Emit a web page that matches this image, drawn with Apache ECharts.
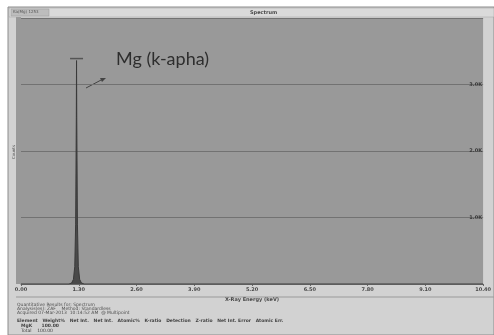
<!DOCTYPE html>
<html>
<head>
<meta charset="utf-8">
<script src="https://cdn.jsdelivr.net/npm/echarts@6/dist/echarts.min.js"></script>
<style>
  html, body { margin: 0; padding: 0; background: #ffffff; }
  #chart { width: 494px; height: 335px; }
</style>
</head>
<body>
<div id="chart"></div>
<script>
// energy ticks in keV (EDAX style spacing)
const tickLabels = ['0.00', '1.30', '2.60', '3.90', '5.20', '6.50', '7.80', '9.10', '10.40'];
const countTicks = ['0', '1.0K', '2.0K', '3.0K', '4.0K'];

// spectrum: a single narrow Mg K-alpha peak
const energy = [0, 1.08, 1.14, 1.18, 1.21, 1.23, 1.245, 1.25, 1.255, 1.27, 1.29, 1.32, 1.36, 1.42, 10.4];
const counts = [0, 0, 15, 70, 260, 900, 2500, 3360, 2500, 900, 260, 70, 15, 0, 0];

const peakLabel = 'MgK';
const annotation = 'Mg (k-apha)';

const chart = echarts.init(document.getElementById('chart'));

const option = {
  backgroundColor: '#ffffff',
  animation: false,
  grid: {
    left: 21,
    right: 4,
    top: 18,
    bottom: 51,
    show: true,
    backgroundColor: '#999999',
    borderWidth: 0
  },
  xAxis: {
    type: 'value',
    min: 0,
    max: 10.4,
    interval: 1.3,
    name: 'X-Ray Energy (keV)',
    nameLocation: 'middle',
    nameGap: 11,
    nameTextStyle: { fontSize: 5, color: '#4a4a4a', fontWeight: 'bold', fontFamily: 'DejaVu Sans' },
    axisLine: { show: true, lineStyle: { color: '#6a6a6a', width: 1 } },
    axisTick: { show: true, length: 2, lineStyle: { color: '#666' } },
    axisLabel: {
      fontSize: 5,
      color: '#4a4a4a',
      fontWeight: 'bold',
      margin: 3,
      fontFamily: 'DejaVu Sans',
      formatter: (v) => tickLabels[Math.round(v / 1.3)] || ''
    },
    splitLine: { show: false }
  },
  yAxis: {
    type: 'value',
    min: 0,
    max: 4000,
    interval: 1000,
    position: 'right',
    axisLine: { show: false },
    axisTick: { show: false },
    axisLabel: {
      inside: true,
      margin: 1,
      fontSize: 5,
      color: '#3a3a3a',
      fontWeight: 'bold',
      fontFamily: 'DejaVu Sans',
      verticalAlign: 'middle',
      formatter: (v) => v === 0 || v === 4000 ? '' : countTicks[v / 1000]
    },
    splitLine: { show: true, lineStyle: { color: '#727272', width: 1 } }
  },
  series: [
    {
      type: 'line',
      data: energy.map((e, i) => [e, counts[i]]),
      symbol: 'none',
      lineStyle: { color: '#3a3a3a', width: 1 },
      areaStyle: { color: '#4a4a4a', opacity: 1 },
      markPoint: {
        symbol: 'rect',
        symbolSize: [13, 1.5],
        symbolOffset: [0, -2],
        itemStyle: { color: '#555555' },
        label: { show: false },
        data: [{ name: peakLabel, coord: [1.25, 3360] }]
      }
    }
  ],
  graphic: [
    // window frame
    { type: 'rect', shape: { x: 8, y: 7, width: 486, height: 328 }, style: { fill: '#d2d2d2', stroke: '#8c8c8c', lineWidth: 1 }, z: -10 },
    { type: 'rect', shape: { x: 16, y: 17, width: 5, height: 267 }, style: { fill: '#999999' }, z: -5 },
    // title bar
    { type: 'rect', shape: { x: 9, y: 8, width: 485, height: 9 }, style: { fill: '#dadada', stroke: '#a0a0a0', lineWidth: 0.5 }, z: -4 },
    { type: 'rect', shape: { x: 11, y: 9, width: 38, height: 7 }, style: { fill: '#bdbdbd', stroke: '#9a9a9a', lineWidth: 0.5 }, z: -3 },
    { type: 'text', left: 13, top: 10, style: { text: 'Ka(Mg) 1253', fontSize: 4, fill: '#555', fontFamily: 'DejaVu Sans' } },
    { type: 'text', left: 250, top: 10, style: { text: 'Spectrum', fontSize: 5, fill: '#4a4a4a', fontWeight: 'bold', fontFamily: 'DejaVu Sans' } },
    // y axis title
    { type: 'text', x: 12, y: 152, rotation: Math.PI / 2, style: { text: 'Counts', fontSize: 4, fill: '#555', align: 'center', fontFamily: 'DejaVu Sans' } },
    // separator under axis
    { type: 'line', shape: { x1: 16, y1: 297, x2: 494, y2: 297 }, style: { stroke: '#9a9a9a', lineWidth: 1 } },
    // results block
    { type: 'text', left: 17, top: 302, style: { text: 'Quantitative Results for: Spectrum', fontSize: 4.5, fill: '#505050', fontFamily: 'DejaVu Sans' } },
    { type: 'text', left: 17, top: 306, style: { text: 'Analysis(es): ZAF    Method: Standardless', fontSize: 4.5, fill: '#505050', fontFamily: 'DejaVu Sans' } },
    { type: 'text', left: 17, top: 310, style: { text: 'Acquired 07-Mar-2013  10:14:52 AM  @ Multipoint', fontSize: 4.5, fill: '#505050', fontFamily: 'DejaVu Sans' } },
    { type: 'text', left: 17, top: 318, style: { text: 'Element   Weight%   Net Int.   Net Int.   Atomic%   K-ratio   Detection   Z-ratio   Net Int. Error   Atomic Err.', fontSize: 4.5, fill: '#444', fontWeight: 'bold', fontFamily: 'DejaVu Sans' } },
    { type: 'text', left: 21, top: 323, style: { text: 'MgK      100.00', fontSize: 4.5, fill: '#444', fontWeight: 'bold', fontFamily: 'DejaVu Sans' } },
    { type: 'text', left: 21, top: 328, style: { text: 'Total    100.00', fontSize: 4.5, fill: '#444', fontFamily: 'DejaVu Sans' } },
    // annotation
    { type: 'text', left: 116, top: 50, style: { text: annotation, fontSize: 18, fill: '#2e2e2e', fontFamily: 'Lato' } },
    { type: 'line', shape: { x1: 86, y1: 88, x2: 103, y2: 79 }, style: { stroke: '#444', lineWidth: 1 } },
    { type: 'polygon', shape: { points: [[106, 78], [100, 78], [102, 82]] }, style: { fill: '#444' } }
  ]
};

chart.setOption(option);
</script>
</body>
</html>
